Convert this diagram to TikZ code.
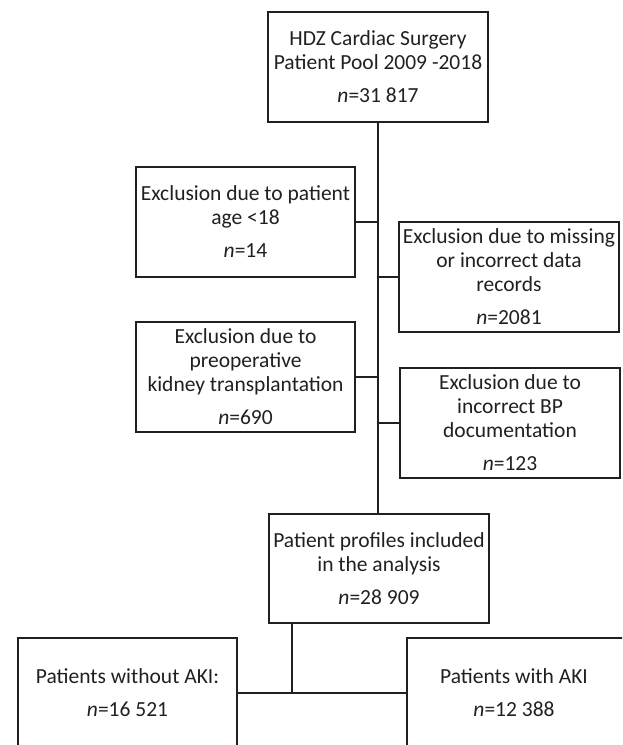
\documentclass[tikz,border=0pt]{standalone}
\usepackage{fontspec}
\setmainfont{Carlito}
\definecolor{ink}{HTML}{231F20}
\begin{document}
\begin{tikzpicture}[x=1pt,y=-1pt,
  box/.style={draw=ink, line width=2.2pt, text=ink, minimum width=220pt, minimum height=110pt,
    inner sep=0pt, align=center, font=\fontsize{21.5}{24}\selectfont},
  link/.style={draw=ink, line width=2.2pt}]
\path[use as bounding box, clip] (0,0) rectangle (622,745);
\node[box] (top) at (378,67) {HDZ Cardiac Surgery\\Patient Pool 2009 -2018\\[9pt]\textit{n}=31 817};
\node[box, minimum width=219pt] (age) at (245.5,222) {Exclusion due to patient\\age <18\\[9pt]\textit{n}=14};
\node[box] (miss) at (509,277) {Exclusion due to missing\\or incorrect data\\records\\[9pt]\textit{n}=2081};
\node[box, minimum width=219pt] (kid) at (245.5,377) {Exclusion due to\\preoperative\\kidney transplantation\\[9pt]\textit{n}=690};
\node[box] (bp) at (510,423) {Exclusion due to\\incorrect BP\\documentation\\[9pt]\textit{n}=123};
\node[box, minimum height=109pt] (ana) at (379,568.5) {Patient profiles included\\in the analysis\\[9pt]\textit{n}=28 909};
\node[box, minimum width=219pt] (noaki) at (127.5,693) {Patients without AKI:\\[9pt]\textit{n}=16 521};
\node[box] (aki) at (517,693) {\hspace*{-6pt}Patients with AKI\\[9pt]\hspace*{-6pt}\textit{n}=12 388};
\coordinate (j) at (292,693);
\draw[link] (top.south) -- (top.south |- ana.north);
\draw[link] (age.east) -- (age.east -| top.south);
\draw[link] (miss.west) -- (miss.west -| top.south);
\draw[link] (kid.east) -- (kid.east -| top.south);
\draw[link] (bp.west) -- (bp.west -| top.south);
\draw[link] (j |- ana.south) -- (j);
\draw[link] (noaki.east) -- (aki.west);
\end{tikzpicture}
\end{document}
